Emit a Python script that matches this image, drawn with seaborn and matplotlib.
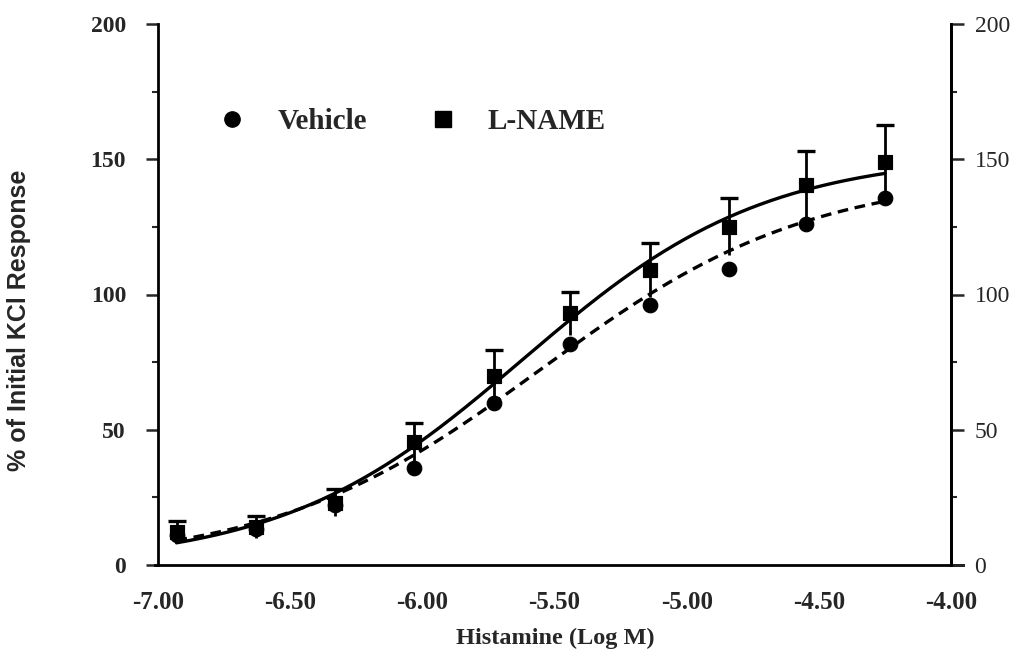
import numpy as np
import pandas as pd
import matplotlib
matplotlib.use("Agg")
import matplotlib.pyplot as plt
from matplotlib.lines import Line2D
import seaborn as sns

# Histamine concentration-response data (log molar dose)
log_dose = [-6.93, -6.63, -6.33, -6.03, -5.73, -5.44, -5.14, -4.84, -4.55, -4.25]
vehicle_mean = [11.0, 13.3, 22.0, 36.0, 60.0, 81.7, 96.0, 109.6, 126.0, 135.8]
lname_mean = [12.2, 14.0, 23.0, 45.5, 70.0, 93.0, 109.0, 125.0, 140.6, 149.0]
lname_sem = [4.0, 4.0, 5.0, 7.0, 9.5, 8.0, 10.0, 10.5, 12.5, 13.5]

# Four-parameter logistic fits: bottom, top, logEC50, Hill slope
vehicle_fit = [0.0, 145.0, -5.55, 0.85]
lname_fit = [0.0, 152.0, -5.62, 0.95]

y_ticks = [0, 50, 100, 150, 200]
x_ticks = [-7.00, -6.50, -6.00, -5.50, -5.00, -4.50, -4.00]


def logistic(x, p):
    bottom, top, ec50, hill = p
    return bottom + (top - bottom) / (1.0 + 10 ** ((ec50 - x) * hill))


sns.set_theme(style="ticks")
plt.rcParams["font.family"] = ["Liberation Serif", "DejaVu Serif"]
plt.rcParams["font.weight"] = "bold"

fig = plt.figure(figsize=(10.16, 6.58), dpi=100)
ax = fig.add_axes([158 / 1016, 93 / 658, 793 / 1016, 541 / 658])

# fitted curves
xs = np.linspace(log_dose[0], log_dose[-1], 200)
curves = pd.DataFrame({
    "x": np.concatenate([xs, xs]),
    "y": np.concatenate([logistic(xs, vehicle_fit), logistic(xs, lname_fit)]),
    "group": ["Vehicle"] * len(xs) + ["L-NAME"] * len(xs),
})
sns.lineplot(data=curves, x="x", y="y", style="group",
             dashes={"Vehicle": (3.2, 2.0), "L-NAME": ""},
             color="black", linewidth=2.4, legend=False, ax=ax, zorder=2)

# L-NAME error bars: full stem, cap only on the upper end
lname_arr = np.array(lname_mean)
sem_arr = np.array(lname_sem)
ax.errorbar(log_dose, lname_mean, yerr=lname_sem, fmt="none",
            ecolor="black", elinewidth=2.0, capsize=0, zorder=3)
ax.scatter(log_dose, lname_arr + sem_arr, marker="_", s=150,
           color="black", linewidths=2.4, zorder=3)

points = pd.DataFrame({
    "x": log_dose + log_dose,
    "y": vehicle_mean + lname_mean,
    "group": ["Vehicle"] * len(log_dose) + ["L-NAME"] * len(log_dose),
})
sns.scatterplot(data=points[points.group == "Vehicle"], x="x", y="y",
                marker="o", s=110, color="black", edgecolor="black",
                legend=False, ax=ax, zorder=4)
sns.scatterplot(data=points[points.group == "L-NAME"], x="x", y="y",
                marker="s", s=110, color="black", edgecolor="black",
                legend=False, ax=ax, zorder=5)

ax.set_xlim(-7.0, -4.0)
ax.set_ylim(0, 200)
ax.set_xticks(x_ticks)
ax.set_xticklabels([f"{t:.2f}" for t in x_ticks], fontsize=18, fontweight="bold")
ax.tick_params(axis="x", length=0, pad=19)
ax.set_yticks(y_ticks)
ax.set_yticklabels([str(t) for t in y_ticks], fontsize=17, fontweight="bold")
ax.set_yticks([25, 75, 125, 175], minor=True)
ax.tick_params(axis="y", which="major", length=9, width=1.8, direction="out", pad=14)
ax.tick_params(axis="y", which="minor", length=4, width=1.5, direction="out")

for side in ["left", "bottom", "right"]:
    ax.spines[side].set_linewidth(2.0)
    ax.spines[side].set_color("black")
ax.spines["top"].set_visible(False)
ax.spines["bottom"].set_bounds(-7.012, -3.955)

# mirrored scale on the right
ax2 = ax.twinx()
ax2.set_ylim(0, 200)
ax2.set_yticks(y_ticks)
ax2.set_yticklabels([str(t) for t in y_ticks], fontsize=17, fontweight="normal")
ax2.set_yticks([25, 75, 125, 175], minor=True)
ax2.tick_params(axis="y", which="major", length=9, width=1.8, direction="out", pad=8)
ax2.tick_params(axis="y", which="minor", length=4, width=1.5, direction="out")
for side in ["left", "bottom", "top"]:
    ax2.spines[side].set_visible(False)
ax2.spines["right"].set_linewidth(2.0)
ax2.spines["right"].set_color("black")

ax.set_xlabel("Histamine (Log M)", fontsize=17.5, fontweight="bold")
ax.xaxis.set_label_coords((555 - 158) / 793, -(628 - 565) / 541)
ax.set_ylabel("% of Initial KCl Response", fontsize=18, fontweight="bold",
              family=["Liberation Sans Narrow", "Liberation Sans", "DejaVu Sans"])
ax.yaxis.set_label_coords((31 - 158) / 793, (565 - 320) / 541)

handles = [
    Line2D([], [], marker="o", linestyle="none", color="black", markersize=11),
    Line2D([], [], marker="s", linestyle="none", color="black", markersize=11),
]
ax.legend(handles, ["Vehicle", "L-NAME"], ncol=2, frameon=False,
          loc="center left", bbox_to_anchor=(0.075, 0.819),
          borderaxespad=0, borderpad=0, handlelength=1.0,
          handletextpad=1.05, columnspacing=2.1,
          prop={"size": 21, "weight": "bold", "family": "Liberation Serif"})

fig.savefig("out.png", dpi=100, facecolor="white")
